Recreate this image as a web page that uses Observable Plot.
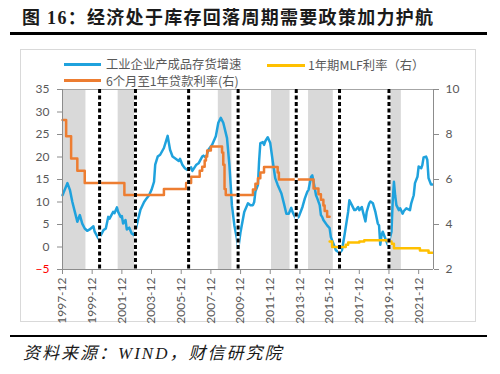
<!DOCTYPE html>
<html><head><meta charset="utf-8">
<script src="https://cdn.jsdelivr.net/npm/d3@7"></script>
<script src="https://cdn.jsdelivr.net/npm/@observablehq/plot@0.6"></script>
<style>
body{margin:0;background:#fff;width:500px;height:374px;position:relative;overflow:hidden;font-family:"Noto Sans CJK SC",sans-serif;}
#title{position:absolute;left:22px;top:8px;font-weight:bold;font-size:18px;line-height:20px;font-family:"Liberation Serif","Noto Sans CJK SC",serif;letter-spacing:1.3px;color:#1a1a1a;white-space:nowrap}
.hr{position:absolute;left:10px;width:477px;background:#000}
#frame{position:absolute;left:20px;top:49px;width:456px;height:273px;border:1px solid #d9d9d9;box-sizing:border-box}
#chart{position:absolute;left:20px;top:49px}
#chart svg{overflow:visible}
.leg{position:absolute;font-size:12.3px;font-family:"Noto Sans CJK SC",sans-serif;color:#595959;white-space:nowrap;line-height:12px}
.sw{position:absolute;height:3px}
#cap{position:absolute;left:23px;top:345px;font-size:17px;line-height:18px;font-style:italic;font-family:"Liberation Serif","Noto Sans CJK SC",serif;letter-spacing:2px;color:#1a1a1a;white-space:nowrap}
</style></head>
<body>
<div id="title">图 16：经济处于库存回落周期需要政策加力护航</div>
<div class="hr" style="top:32px;height:2.5px"></div>
<div id="frame"></div>
<div id="chart"></div>
<div class="sw" style="left:64px;top:62.5px;width:37px;background:#1fa2dd"></div>
<div class="leg" style="left:106px;top:58px">工业企业产成品存货增速</div>
<div class="sw" style="left:64px;top:79px;width:37px;background:#ED7D31"></div>
<div class="leg" style="left:106px;top:74.7px">6个月至1年贷款利率(右)</div>
<div class="sw" style="left:267px;top:63.5px;width:38px;background:#FFC000"></div>
<div class="leg" style="left:308px;top:59px">1年期MLF利率（右）</div>
<div class="hr" style="top:335px;height:2px"></div>
<div id="cap">资料来源：WIND，财信研究院</div>
<script>
const blueDates = ["1997-12","1998-04","1998-06","1998-08","1998-10","1998-12","1999-02","1999-04","1999-06","1999-08","1999-10","2000-01","2000-02","2000-05","2000-07","2000-09","2000-11","2001-01","2001-02","2001-05","2001-06","2001-08","2001-09","2001-11","2001-12","2002-01","2002-03","2002-04","2002-06","2002-08","2002-10","2002-11","2003-01","2003-03","2003-06","2003-08","2003-10","2003-12","2004-02","2004-03","2004-05","2004-07","2004-10","2005-01","2005-03","2005-05","2005-07","2005-10","2005-11","2006-01","2006-03","2006-05","2006-08","2006-09","2006-12","2007-02","2007-05","2007-06","2007-08","2007-10","2008-01","2008-04","2008-06","2008-08","2008-10","2009-01","2009-03","2009-04","2009-05","2009-07","2009-09","2009-10","2009-12","2010-03","2010-06","2010-08","2010-10","2010-11","2010-12","2011-02","2011-03","2011-04","2011-06","2011-07","2011-08","2011-10","2011-12","2012-02","2012-04","2012-06","2012-09","2012-11","2013-01","2013-03","2013-05","2013-06","2013-08","2013-09","2013-11","2014-02","2014-04","2014-06","2014-07","2014-09","2014-10","2014-11","2015-01","2015-02","2015-04","2015-05","2015-06","2015-07","2015-10","2015-12","2016-01","2016-03","2016-05","2016-08","2016-10","2016-12","2017-03","2017-04","2017-06","2017-08","2017-09","2017-11","2017-12","2018-02","2018-03","2018-05","2018-06","2018-08","2018-09","2018-11","2019-01","2019-03","2019-04","2019-05","2019-06","2019-07","2019-09","2019-11","2019-12","2020-02","2020-03","2020-04","2020-05","2020-06","2020-08","2020-09","2020-11","2020-12","2021-02","2021-05","2021-06","2021-08","2021-09","2021-11","2021-12","2022-02","2022-03","2022-04","2022-06","2022-07","2022-08","2022-10","2022-11"];
const blueValues = [11.5,14.2,12.7,10.0,7.8,5.6,7.1,5.2,4.1,3.6,3.9,4.6,3.4,1.9,2.6,3.7,4.1,6.7,6.3,7.8,7.5,8.8,7.8,6.7,6.9,5.2,6.0,3.9,4.3,3.0,2.6,3.7,6.0,8.2,10.0,10.8,11.5,12.7,14.5,18.3,20.1,20.5,22.0,24.7,21.6,20.1,19.7,19.1,19.6,18.2,17.5,17.1,17.7,16.9,18.2,18.6,20.1,20.3,19.9,21.6,22.7,24.6,27.6,28.7,27.6,24.2,18.2,13.8,9.3,4.8,1.9,-0.6,3.4,7.8,9.7,9.3,9.3,10.0,12.3,13.8,19.0,23.1,23.3,22.7,23.5,24.4,23.1,19.0,15.3,13.8,11.9,9.7,7.4,7.4,8.7,7.8,6.7,6.2,6.7,8.9,10.8,12.3,12.7,15.6,15.9,14.5,11.5,10.8,9.3,7.1,6.7,6.0,4.8,4.2,2.2,0.8,-0.7,-1.3,-0.7,2.6,7.8,10.4,9.3,8.2,8.2,8.9,8.2,8.9,7.8,5.7,7.8,9.7,10.1,9.7,7.8,5.2,4.8,0.5,2.6,3.4,1.9,0.5,1.1,3.4,10.0,14.5,11.5,9.3,8.2,8.6,7.4,8.0,8.6,8.2,9.7,11.5,14.2,15.6,17.9,17.5,18.2,19.9,20.1,19.4,15.3,13.9,13.9];

const loanDates = ["1997-12","1998-03","1998-07","1998-12","1999-06","2002-02","2004-10","2006-04","2006-08","2007-03","2007-05","2007-07","2007-08","2007-09","2007-12","2008-09","2008-10","2008-11","2008-12","2010-10","2010-12","2011-02","2011-04","2011-07","2012-06","2012-07","2014-11","2015-03","2015-05","2015-07","2015-08","2015-10","2015-12"];
const loanRates = [8.64,7.92,6.93,6.39,5.85,5.31,5.58,5.85,6.12,6.39,6.57,6.84,7.02,7.29,7.47,7.20,6.66,5.58,5.31,5.56,5.81,6.06,6.31,6.56,6.31,6.00,5.60,5.35,5.10,4.85,4.60,4.35,4.35];

const mlfDates = ["2015-12","2016-02","2017-01","2017-03","2017-12","2018-04","2019-11","2020-02","2020-04","2022-01","2022-08","2022-11"];
const mlfRates = [3.25,3.00,3.10,3.20,3.25,3.30,3.25,3.15,2.95,2.85,2.75,2.75];

const shadeStarts = ["1997-12","2001-09","2008-06","2012-01","2014-07","2020-01"];
const shadeEnds   = ["1999-07","2002-11","2009-05","2013-04","2016-03","2020-10"];

const markerDates = ["2000-06","2002-11","2006-06","2009-10","2013-09","2016-08","2019-12"];

const xTickLabels = ["1997-12","1999-12","2001-12","2003-12","2005-12","2007-12","2009-12","2011-12","2013-12","2015-12","2017-12","2019-12","2021-12"];
const leftTicks = [-5,0,5,10,15,20,25,30,35];
const rightTicks = [2,4,6,8,10];

const parse = d3.utcParse("%Y-%m");
const fmt = d3.utcFormat("%Y-%m");
// right axis (2..10) drawn on left scale (-5..35)
const toLeft = r => (r - 2) * 5 - 5;
const toRight = v => (v + 5) / 5 + 2;

const inv = blueDates.map((d, i) => ({date: parse(d), v: blueValues[i]}));
const loan = loanDates.map((d, i) => ({date: parse(d), r: loanRates[i]}));
const mlf = mlfDates.map((d, i) => ({date: parse(d), r: mlfRates[i]}));
const shades = shadeStarts.map((d, i) => ({a: parse(d), b: parse(shadeEnds[i])}));
const markers = markerDates.map(parse);
const xStart = parse("1997-12"), xEnd = parse("2022-12");

const axisColor = "#8c8c8c", textColor = "#595959";

const chart = Plot.plot({
  width: 456, height: 282,
  marginLeft: 42, marginRight: 43, marginTop: 40, marginBottom: 62,
  x: {type: "utc", domain: [xStart, xEnd]},
  y: {domain: [-5, 35]},
  style: {background: "transparent", fontFamily: "Lato, 'Noto Sans', sans-serif", fontSize: "12px", color: textColor},
  marks: [
    Plot.rect(shades, {x1: "a", x2: "b", fill: "#d9d9d9"}),
    Plot.ruleY([35], {stroke: "#a6a6a6"}),
    Plot.line(inv, {x: "date", y: "v", stroke: "#1fa2dd", strokeWidth: 2.5}),
    Plot.line(loan, {x: "date", y: d => toLeft(d.r), stroke: "#ED7D31", strokeWidth: 2.5, curve: "step-after"}),
    Plot.line(mlf, {x: "date", y: d => toLeft(d.r), stroke: "#FFC000", strokeWidth: 2.5, curve: "step-after"}),
    Plot.ruleX(markers, {stroke: "white", strokeWidth: 3}),
    Plot.ruleX(markers, {stroke: "black", strokeWidth: 3, strokeDasharray: "4,2.5"}),
    Plot.ruleY([-5], {stroke: axisColor}),
    Plot.ruleX([xStart], {stroke: axisColor}),
    Plot.ruleX([xEnd], {stroke: axisColor}),
    Plot.axisY(leftTicks.filter(v => v >= 0), {anchor: "left", tickSize: 5, tickPadding: 8, label: null, stroke: axisColor, fill: textColor}),
    Plot.axisY(leftTicks.filter(v => v < 0), {anchor: "left", tickSize: 5, tickPadding: 8, label: null, stroke: axisColor, fill: "#FF0000"}),
    Plot.axisY(rightTicks.map(toLeft), {anchor: "right", tickSize: 5, tickPadding: 7, label: null, stroke: axisColor, fill: textColor, tickFormat: d => String(toRight(d))}),
    Plot.axisX(xTickLabels.map(parse), {anchor: "bottom", tickSize: 5, tickPadding: 3, tickRotate: -90, label: null, stroke: axisColor, fill: textColor, tickFormat: fmt})
  ]
});
document.getElementById("chart").appendChild(chart);
</script>
</body></html>
